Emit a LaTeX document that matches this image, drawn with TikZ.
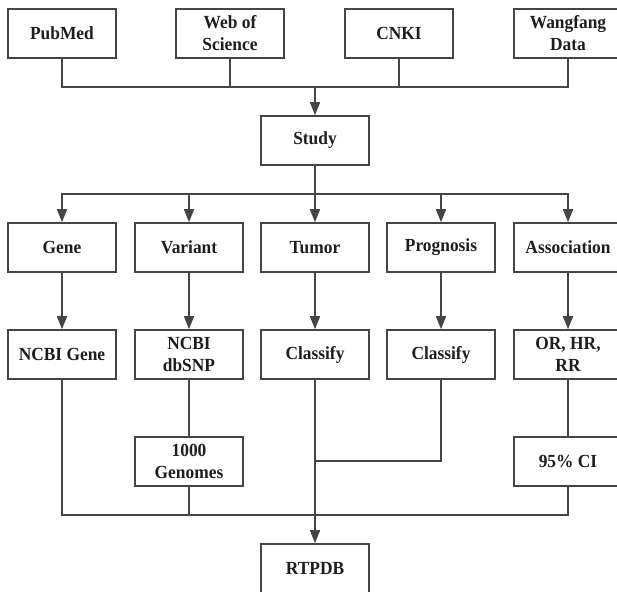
\documentclass[tikz,border=0pt]{standalone}
\usepackage{fontspec}
\setmainfont{Liberation Serif}[FakeStretch=0.94]
\usetikzlibrary{arrows.meta}
\definecolor{ln}{HTML}{454545}
\definecolor{tx}{HTML}{1E1E1E}
\tikzset{
  box/.style={draw=ln, line width=1.6pt, minimum width=108pt, minimum height=49pt,
    inner sep=0pt, align=center, text=tx,
    font=\fontsize{18.5}{22}\selectfont\bfseries},
  conn/.style={draw=ln, line width=1.6pt},
  arr/.style={conn, -{Triangle[length=13pt,width=10pt]}}
}
\begin{document}
\begin{tikzpicture}[x=1pt,y=-1pt]
\useasboundingbox (0,0) rectangle (617,591);
\clip (0,0) rectangle (617,591);
% top row
\node[box] (pub) at (62,33.5) {PubMed};
\node[box] (web) at (230,33.5) {Web of\\Science};
\node[box] (cnki) at (399,33.5) {CNKI};
\node[box] (wf) at (568,33.5) {Wangfang\\Data};
\node[box] (study) at (315,140.5) {Study};
% row 2
\node[box] (gene) at (62,247.5) {Gene};
\node[box] (var) at (189,247.5) {Variant};
\node[box] (tum) at (315,247.5) {Tumor};
\node[box] (prog) at (441,247.5) {Prognosis};
\node[box] (assoc) at (568,247.5) {Association};
% row 3
\node[box] (ncbig) at (62,354.5) {NCBI Gene};
\node[box] (dbsnp) at (189,354.5) {NCBI\\dbSNP};
\node[box] (cls1) at (315,354.5) {Classify};
\node[box] (cls2) at (441,354.5) {Classify};
\node[box] (orhr) at (568,354.5) {OR, HR,\\RR};
% row 4
\node[box] (g1000) at (189,461.5) {1000\\Genomes};
\node[box] (ci) at (568,461.5) {95\% CI};
% bottom
\node[box] (rtpdb) at (315,568.5) {RTPDB};
% junction points
\coordinate (jtop) at (315,87);
\coordinate (jbr) at (315,194);
\coordinate (jprog) at (315,461);
\coordinate (jbot) at (315,515);
% top merge
\draw[conn] (pub.south) |- (jtop) -| (wf.south);
\draw[conn] (web.south) -- (web.south |- jtop);
\draw[conn] (cnki.south) -- (cnki.south |- jtop);
\draw[arr] (jtop) -- (study.north);
% branch
\draw[conn] (study.south) -- (jbr);
\draw[arr] (jbr) -| (gene.north);
\draw[arr] (jbr) -| (var.north);
\draw[arr] (jbr) -- (tum.north);
\draw[arr] (jbr) -| (prog.north);
\draw[arr] (jbr) -| (assoc.north);
% row2 to row3
\draw[arr] (gene.south) -- (ncbig.north);
\draw[arr] (var.south) -- (dbsnp.north);
\draw[arr] (tum.south) -- (cls1.north);
\draw[arr] (prog.south) -- (cls2.north);
\draw[arr] (assoc.south) -- (orhr.north);
% row3 to row4
\draw[conn] (dbsnp.south) -- (g1000.north);
\draw[conn] (orhr.south) -- (ci.north);
\draw[conn] (cls2.south) |- (jprog);
% bottom merge
\draw[conn] (ncbig.south) |- (jbot) -| (ci.south);
\draw[conn] (g1000.south) -- (g1000.south |- jbot);
\draw[arr] (cls1.south) -- (rtpdb.north);
\end{tikzpicture}
\end{document}
